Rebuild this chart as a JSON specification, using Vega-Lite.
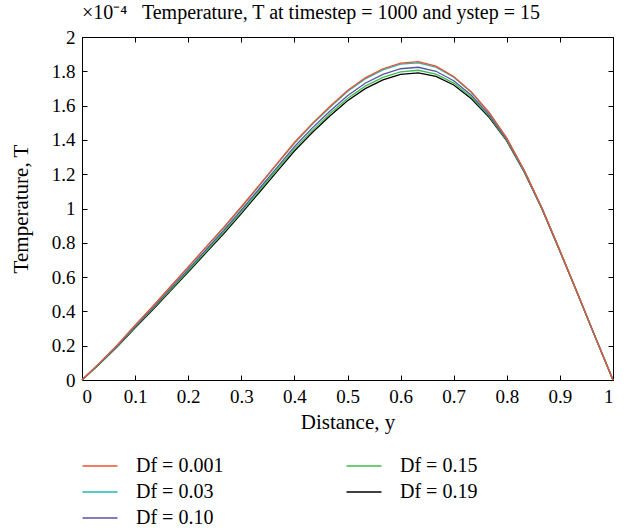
{
  "$schema": "https://vega.github.io/schema/vega-lite/v6.json",
  "width": 531,
  "height": 343,
  "autosize": "none",
  "padding": {"left": 82, "top": 37, "right": 14, "bottom": 151},
  "background": "white",
  "config": {
    "font": "'Liberation Serif', 'Times New Roman', serif",
    "view": {"stroke": "black", "strokeWidth": 1},
    "axis": {
      "grid": false,
      "domainColor": "black",
      "tickColor": "black",
      "tickSize": -5,
      "labelFont": "'Liberation Serif', 'Times New Roman', serif",
      "labelFontSize": 19,
      "labelColor": "black",
      "titleFont": "'Liberation Serif', 'Times New Roman', serif",
      "titleFontSize": 21,
      "titleFontWeight": "normal",
      "titleColor": "black"
    },
    "legend": {
      "labelFont": "'Liberation Serif', 'Times New Roman', serif"
    },
    "title": {
      "font": "'Liberation Serif', 'Times New Roman', serif"
    }
  },
  "title": {
    "text": "×10⁻⁴\u00a0\u00a0 Temperature, T at timestep = 1000 and ystep = 15",
    "anchor": "start",
    "frame": "group",
    "fontSize": 20,
    "fontWeight": "normal",
    "color": "black",
    "offset": 5
  },
  "data": {
    "values": [
      {"x": 0, "a": 0, "b": 0, "c": 0, "d": 0, "e": 0},
      {"x": 0.0333, "a": 0.1, "b": 0.0995, "c": 0.0975, "d": 0.0962, "e": 0.095},
      {"x": 0.0667, "a": 0.205, "b": 0.204, "c": 0.2, "d": 0.1973, "e": 0.195},
      {"x": 0.1, "a": 0.32, "b": 0.3185, "c": 0.3125, "d": 0.3085, "e": 0.305},
      {"x": 0.1333, "a": 0.43, "b": 0.428, "c": 0.42, "d": 0.4146, "e": 0.41},
      {"x": 0.1667, "a": 0.545, "b": 0.5425, "c": 0.5325, "d": 0.5258, "e": 0.52},
      {"x": 0.2, "a": 0.66, "b": 0.657, "c": 0.645, "d": 0.6369, "e": 0.63},
      {"x": 0.2333, "a": 0.775, "b": 0.7716, "c": 0.758, "d": 0.7488, "e": 0.741},
      {"x": 0.2667, "a": 0.89, "b": 0.8863, "c": 0.8715, "d": 0.8615, "e": 0.853},
      {"x": 0.3, "a": 1.01, "b": 1.006, "c": 0.99, "d": 0.9792, "e": 0.97},
      {"x": 0.3333, "a": 1.135, "b": 1.1307, "c": 1.1135, "d": 1.1019, "e": 1.092},
      {"x": 0.3667, "a": 1.26, "b": 1.2554, "c": 1.237, "d": 1.2246, "e": 1.214},
      {"x": 0.4, "a": 1.385, "b": 1.38, "c": 1.36, "d": 1.3465, "e": 1.335},
      {"x": 0.4333, "a": 1.495, "b": 1.4897, "c": 1.4685, "d": 1.4542, "e": 1.442},
      {"x": 0.4667, "a": 1.595, "b": 1.5894, "c": 1.567, "d": 1.5519, "e": 1.539},
      {"x": 0.5, "a": 1.688, "b": 1.682, "c": 1.658, "d": 1.6418, "e": 1.628},
      {"x": 0.5333, "a": 1.762, "b": 1.7557, "c": 1.7305, "d": 1.7135, "e": 1.699},
      {"x": 0.5667, "a": 1.815, "b": 1.8085, "c": 1.7825, "d": 1.765, "e": 1.75},
      {"x": 0.6, "a": 1.848, "b": 1.8414, "c": 1.815, "d": 1.7972, "e": 1.782},
      {"x": 0.6333, "a": 1.856, "b": 1.8495, "c": 1.8235, "d": 1.806, "e": 1.791},
      {"x": 0.6667, "a": 1.83, "b": 1.824, "c": 1.8, "d": 1.7838, "e": 1.77},
      {"x": 0.7, "a": 1.77, "b": 1.765, "c": 1.745, "d": 1.7315, "e": 1.72},
      {"x": 0.7333, "a": 1.68, "b": 1.676, "c": 1.66, "d": 1.6492, "e": 1.64},
      {"x": 0.7667, "a": 1.56, "b": 1.5572, "c": 1.546, "d": 1.5384, "e": 1.532},
      {"x": 0.8, "a": 1.41, "b": 1.4084, "c": 1.402, "d": 1.3977, "e": 1.394},
      {"x": 0.8333, "a": 1.22, "b": 1.219, "c": 1.215, "d": 1.2123, "e": 1.21},
      {"x": 0.8667, "a": 1.0, "b": 0.9994, "c": 0.997, "d": 0.9954, "e": 0.994},
      {"x": 0.9, "a": 0.755, "b": 0.7546, "c": 0.753, "d": 0.7519, "e": 0.751},
      {"x": 0.9333, "a": 0.505, "b": 0.5048, "c": 0.504, "d": 0.5035, "e": 0.503},
      {"x": 0.9667, "a": 0.25, "b": 0.2499, "c": 0.2495, "d": 0.2492, "e": 0.249},
      {"x": 1, "a": 0, "b": 0, "c": 0, "d": 0, "e": 0}
    ]
  },
  "transform": [{"fold": ["e", "d", "c", "b", "a"], "as": ["Df", "T"]}],
  "layer": [
    {
      "mark": {"type": "line", "strokeWidth": 1.3},
      "encoding": {
        "x": {
          "field": "x",
          "type": "quantitative",
          "scale": {"domain": [0, 1], "nice": false},
          "axis": {
            "title": "Distance, y",
            "values": [0, 0.1, 0.2, 0.3, 0.4, 0.5, 0.6, 0.7, 0.8, 0.9, 1],
            "format": "~g",
            "labelPadding": 12,
            "titlePadding": 5
          }
        },
        "y": {
          "field": "T",
          "type": "quantitative",
          "scale": {"domain": [0, 2], "nice": false},
          "axis": {
            "title": "Temperature, T",
            "values": [0, 0.2, 0.4, 0.6, 0.8, 1, 1.2, 1.4, 1.6, 1.8, 2],
            "format": "~g",
            "labelPadding": 12,
            "titlePadding": 20
          }
        },
        "color": {
          "field": "Df",
          "type": "nominal",
          "scale": {
            "domain": ["a", "b", "c", "d", "e"],
            "range": ["#f0502f", "#1fb8b0", "#5a52a8", "#3cbf4a", "#000000"]
          },
          "legend": {
            "orient": "none",
            "legendX": 8,
            "legendY": 419,
            "columns": 2,
            "columnPadding": 119,
            "rowPadding": 6,
            "padding": 0,
            "title": null,
            "symbolType": "M-2.5,0H2.5",
            "symbolSize": 196,
            "symbolStrokeWidth": 1.5,
            "labelOffset": 26,
            "labelFontSize": 20,
            "labelColor": "black",
            "labelExpr": "datum.label == 'a' ? 'Df = 0.001' : datum.label == 'b' ? 'Df = 0.03' : datum.label == 'c' ? 'Df = 0.10' : datum.label == 'd' ? 'Df = 0.15' : 'Df = 0.19'"
          }
        }
      }
    },
    {
      "mark": {"type": "line", "opacity": 0},
      "encoding": {
        "x": {
          "field": "x",
          "type": "quantitative",
          "axis": {
            "orient": "top",
            "labels": false,
            "title": null,
            "values": [0, 0.1, 0.2, 0.3, 0.4, 0.5, 0.6, 0.7, 0.8, 0.9, 1]
          }
        },
        "y": {
          "field": "T",
          "type": "quantitative",
          "axis": {
            "orient": "right",
            "labels": false,
            "title": null,
            "values": [0, 0.2, 0.4, 0.6, 0.8, 1, 1.2, 1.4, 1.6, 1.8, 2]
          }
        }
      }
    }
  ],
  "resolve": {"axis": {"x": "independent", "y": "independent"}}
}
